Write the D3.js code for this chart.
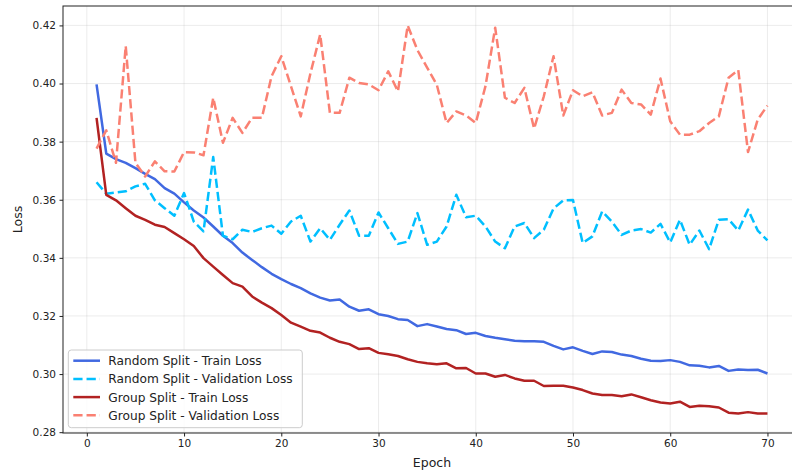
<!DOCTYPE html>
<html>
<head>
<meta charset="utf-8">
<script src="https://cdn.jsdelivr.net/npm/d3@7"></script>
<style>
    body { margin: 0; background: #ffffff; }
    svg { display: block; font-family: "DejaVu Sans", sans-serif; }
</style>
</head>
<body>
<svg id="drawing_region"></svg>
<script>
// epochs 1..70
const epochs = d3.range(1, 71);

const randomTrain = [
    0.3997, 0.3759, 0.3740, 0.3727, 0.3709, 0.3689, 0.3671, 0.3640, 0.3621, 0.3591,
    0.3563, 0.3539, 0.3508, 0.3476, 0.3451, 0.3418, 0.3393, 0.3368, 0.3345, 0.3327,
    0.3310, 0.3296, 0.3278, 0.3263, 0.3253, 0.3257, 0.3232, 0.3218, 0.3223, 0.3206,
    0.3200, 0.3189, 0.3186, 0.3165, 0.3172, 0.3164, 0.3155, 0.3151, 0.3138, 0.3142,
    0.3131, 0.3125, 0.3120, 0.3115, 0.3113, 0.3113, 0.3111, 0.3097, 0.3085, 0.3092,
    0.3080, 0.3069, 0.3078, 0.3076, 0.3067, 0.3062, 0.3053, 0.3046, 0.3045, 0.3048,
    0.3042, 0.3030, 0.3029, 0.3023, 0.3028, 0.3011, 0.3016, 0.3014, 0.3015, 0.3002
];

const randomVal = [
    0.3660, 0.3621, 0.3625, 0.3629, 0.3646, 0.3655, 0.3598, 0.3571, 0.3545, 0.3623,
    0.3525, 0.3491, 0.3747, 0.3476, 0.3464, 0.3497, 0.3489, 0.3502, 0.3511, 0.3483,
    0.3525, 0.3545, 0.3456, 0.3502, 0.3462, 0.3514, 0.3563, 0.3476, 0.3476, 0.3556,
    0.3502, 0.3448, 0.3456, 0.3554, 0.3445, 0.3456, 0.3508, 0.3617, 0.3540, 0.3545,
    0.3508, 0.3456, 0.3433, 0.3508, 0.3520, 0.3468, 0.3497, 0.3570, 0.3598, 0.3599,
    0.3451, 0.3474, 0.3560, 0.3525, 0.3479, 0.3494, 0.3499, 0.3487, 0.3517, 0.3453,
    0.3531, 0.3445, 0.3494, 0.3430, 0.3531, 0.3533, 0.3494, 0.3566, 0.3494, 0.3460
];

const groupTrain = [
    0.3882, 0.3617, 0.3598, 0.3571, 0.3545, 0.3531, 0.3514, 0.3506, 0.3485, 0.3464,
    0.3441, 0.3399, 0.3370, 0.3341, 0.3313, 0.3301, 0.3267, 0.3246, 0.3227, 0.3203,
    0.3177, 0.3163, 0.3149, 0.3143, 0.3125, 0.3111, 0.3103, 0.3086, 0.3089, 0.3073,
    0.3068, 0.3062, 0.3051, 0.3042, 0.3037, 0.3034, 0.3037, 0.3020, 0.3021, 0.3002,
    0.3002, 0.2991, 0.2997, 0.2985, 0.2977, 0.2977, 0.2959, 0.2960, 0.2960, 0.2954,
    0.2945, 0.2933, 0.2928, 0.2928, 0.2924, 0.2930, 0.2920, 0.2910, 0.2902, 0.2899,
    0.2905, 0.2887, 0.2891, 0.2889, 0.2885, 0.2867, 0.2864, 0.2869, 0.2864, 0.2864
];

const groupVal = [
    0.3776, 0.3839, 0.3727, 0.4129, 0.3727, 0.3680, 0.3732, 0.3698, 0.3697, 0.3764,
    0.3763, 0.3753, 0.3951, 0.3796, 0.3882, 0.3830, 0.3882, 0.3882, 0.4025, 0.4094,
    0.3990, 0.3887, 0.4035, 0.4169, 0.3899, 0.3899, 0.4020, 0.4002, 0.3997, 0.3977,
    0.4042, 0.3973, 0.4200, 0.4115, 0.4055, 0.3995, 0.3864, 0.3904, 0.3890, 0.3864,
    0.3991, 0.4192, 0.3951, 0.3933, 0.3985, 0.3845, 0.3956, 0.4094, 0.3890, 0.3977,
    0.3956, 0.3970, 0.3890, 0.3899, 0.3979, 0.3933, 0.3928, 0.3893, 0.4017, 0.3870,
    0.3824, 0.3824, 0.3836, 0.3864, 0.3887, 0.4020, 0.4046, 0.3764, 0.3876, 0.3924
];

const seriesNames = [
    "Random Split - Train Loss",
    "Random Split - Validation Loss",
    "Group Split - Train Loss",
    "Group Split - Validation Loss"
];

const xTicks = [0, 10, 20, 30, 40, 50, 60, 70];
const yTicks = [0.28, 0.30, 0.32, 0.34, 0.36, 0.38, 0.40, 0.42];

// styles per series (same order as seriesNames)
const seriesColors = ["#4169e1", "#00bfff", "#b22222", "#fa8072"];
const seriesDashed = [false, true, false, true];

var config = {
    parent: '#drawing_region',
    width: 792,
    height: 473,
    margin: {top: 6, right: -9, bottom: 40, left: 63}
};

const data = [randomTrain, randomVal, groupTrain, groupVal].map( (vals, i) => ({
    name: seriesNames[i],
    color: seriesColors[i],
    dashed: seriesDashed[i],
    values: vals.map( (v, j) => ({x: epochs[j], y: v}) )
}));

class LineChart {

    constructor( config, data ) {
        this.config = config;
        this.data = data;
        this.init();
    }

    init() {
        let self = this;

        self.svg = d3.select( self.config.parent )
            .attr('width', self.config.width)
            .attr('height', self.config.height);

        self.chart = self.svg.append('g')
            .attr('transform', `translate(${self.config.margin.left}, ${self.config.margin.top})`);

        self.inner_width = self.config.width - self.config.margin.left - self.config.margin.right;
        self.inner_height = self.config.height - self.config.margin.top - self.config.margin.bottom;

        self.xscale = d3.scaleLinear()
            .range( [0, self.inner_width] );

        self.yscale = d3.scaleLinear()
            .range( [self.inner_height, 0] );

        self.xaxis = d3.axisBottom( self.xscale )
            .tickValues( xTicks )
            .tickSize( 3.5 )
            .tickPadding( 3.5 )
            .tickSizeOuter( 0 );

        self.yaxis = d3.axisLeft( self.yscale )
            .tickValues( yTicks )
            .tickFormat( d3.format('.2f') )
            .tickSize( 3.5 )
            .tickPadding( 3.5 )
            .tickSizeOuter( 0 );

        self.grid_group = self.chart.append('g');
        self.line_group = self.chart.append('g');

        self.xaxis_group = self.chart.append('g')
            .attr('transform', `translate(0, ${self.inner_height})`);

        self.yaxis_group = self.chart.append('g');
    }

    update() {
        let self = this;

        // matplotlib style 5% padding around the data
        const xmin = d3.min( epochs ), xmax = d3.max( epochs );
        const xpad = (xmax - xmin) * 0.05;
        self.xscale.domain( [xmin - xpad, xmax + xpad] );

        const all = self.data.flatMap( s => s.values.map( d => d.y ) );
        const ymin = d3.min( all ), ymax = d3.max( all );
        const ypad = (ymax - ymin) * 0.05;
        self.yscale.domain( [ymin - ypad, ymax + ypad] );

        self.render();
    }

    render() {
        let self = this;

        // grid
        self.grid_group.selectAll('.vgrid')
            .data( xTicks )
            .join('line')
            .attr('class', 'vgrid')
            .attr('x1', d => self.xscale(d) )
            .attr('x2', d => self.xscale(d) )
            .attr('y1', 0)
            .attr('y2', self.inner_height)
            .attr('stroke', '#b0b0b0')
            .attr('stroke-opacity', 0.3)
            .attr('stroke-width', 0.8);

        self.grid_group.selectAll('.hgrid')
            .data( yTicks )
            .join('line')
            .attr('class', 'hgrid')
            .attr('x1', 0)
            .attr('x2', self.inner_width)
            .attr('y1', d => self.yscale(d) )
            .attr('y2', d => self.yscale(d) )
            .attr('stroke', '#b0b0b0')
            .attr('stroke-opacity', 0.3)
            .attr('stroke-width', 0.8);

        const line = d3.line()
            .x( d => self.xscale( d.x ) )
            .y( d => self.yscale( d.y ) );

        self.line_group.selectAll('path')
            .data( self.data )
            .join('path')
            .attr('d', d => line( d.values ) )
            .attr('fill', 'none')
            .attr('stroke', d => d.color )
            .attr('stroke-width', 2.5)
            .attr('stroke-linejoin', 'round')
            .attr('stroke-dasharray', d => d.dashed ? '9.25,4' : null );

        // frame (spines)
        self.chart.append('rect')
            .attr('x', 0)
            .attr('y', 0)
            .attr('width', self.inner_width)
            .attr('height', self.inner_height)
            .attr('fill', 'none')
            .attr('stroke', '#222')
            .attr('stroke-width', 1);

        self.xaxis_group
            .call( self.xaxis )
            .call( g => g.select('.domain').remove() );

        self.yaxis_group
            .call( self.yaxis )
            .call( g => g.select('.domain').remove() );

        self.chart.selectAll('.tick line').attr('stroke', '#222');
        self.chart.selectAll('.tick text')
            .attr('fill', '#222')
            .attr('font-size', '10.5px')
            .attr('font-family', '"DejaVu Sans", sans-serif');

        self.svg.append('text')
            .attr('x', self.config.margin.left + self.inner_width / 2)
            .attr('y', 466.5)
            .attr('text-anchor', 'middle')
            .attr('font-size', '12.5px')
            .attr('fill', '#222')
            .text('Epoch');

        self.svg.append('text')
            .attr('transform', `translate(22, ${self.config.margin.top + self.inner_height / 2}) rotate(-90)`)
            .attr('text-anchor', 'middle')
            .attr('font-size', '12.5px')
            .attr('fill', '#222')
            .text('Loss');

        // legend, lower left
        const legend = self.chart.append('g')
            .attr('transform', `translate(5.3, ${self.inner_height - 83})`);

        legend.append('rect')
            .attr('x', 0)
            .attr('y', 0)
            .attr('width', 234)
            .attr('height', 77.7)
            .attr('rx', 3)
            .attr('fill', '#fff')
            .attr('fill-opacity', 0.8)
            .attr('stroke', '#cccccc')
            .attr('stroke-width', 1);

        const items = legend.selectAll('.item')
            .data( self.data )
            .join('g')
            .attr('class', 'item')
            .attr('transform', (d, i) => `translate(0, ${10.7 + i * 18.2})`);

        items.append('line')
            .attr('x1', 5)
            .attr('x2', 31.7)
            .attr('stroke', d => d.color )
            .attr('stroke-width', 2.5)
            .attr('stroke-dasharray', d => d.dashed ? '9.25,4' : null );

        items.append('text')
            .attr('x', 40)
            .attr('dy', '0.36em')
            .attr('font-size', '12.2px')
            .attr('fill', '#222')
            .text( d => d.name );
    }
}

const line_chart = new LineChart( config, data );
line_chart.update();
</script>
</body>
</html>
